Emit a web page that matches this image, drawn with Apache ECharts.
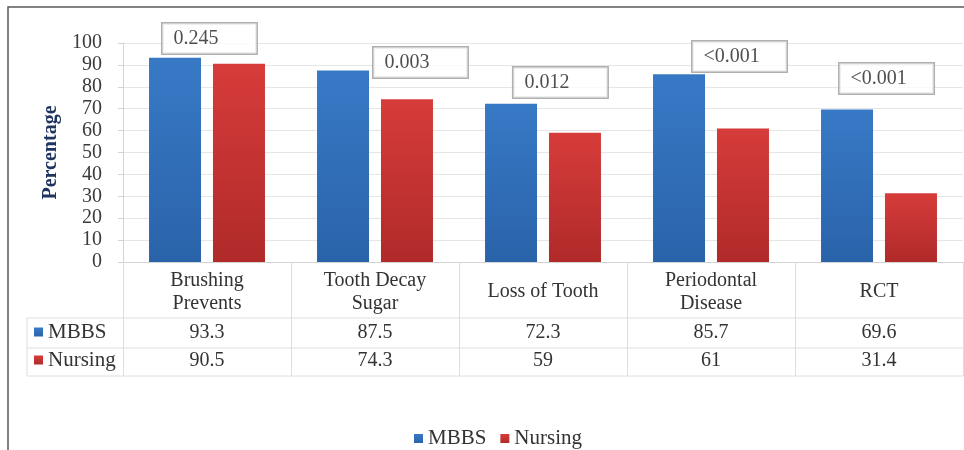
<!DOCTYPE html>
<html>
<head>
<meta charset="utf-8">
<script src="https://cdn.jsdelivr.net/npm/echarts@6/dist/echarts.min.js"></script>
<style>
  html, body { margin: 0; padding: 0; background: #ffffff; }
  #chart { width: 964px; height: 450px; }
</style>
</head>
<body>
<div id="chart"></div>
<script>
// ---- data ----
const categories = ['Brushing\nPrevents', 'Tooth Decay\nSugar', 'Loss of Tooth', 'Periodontal\nDisease', 'RCT'];
const seriesNames = ['MBBS', 'Nursing'];
const mbbs = [93.3, 87.5, 72.3, 85.7, 69.6];
const nursing = [90.5, 74.3, 59, 61, 31.4];
const pValues = ['0.245', '0.003', '0.012', '<0.001', '<0.001'];

// ---- layout: top-left corner of each p-value box, in (category units, percent) ----
const pBoxCorner = [[0.238, 108.7], [1.494, 97.7], [2.327, 88.6], [3.393, 100.5], [4.268, 90.4]];

const FONT = "'Liberation Serif', 'Times New Roman', serif";
const TEXT = '#333333';
const LINE = '#dedede';

const chart = echarts.init(document.getElementById('chart'), null, { renderer: 'canvas' });

function grad(top, bottom) {
  return new echarts.graphic.LinearGradient(0, 0, 0, 1, [
    { offset: 0, color: top },
    { offset: 1, color: bottom }
  ]);
}
const blue = grad('#3879c6', '#2a63aa');
const red = grad('#d63c3a', '#b02a2a');

const gridLeft = 123, gridTop = 43, gridBottom = 188, gridRight = 1;
const tableLeft = 27, tableRight = 963;
const rowLines = [318, 348, 376];

const option = {
  backgroundColor: '#ffffff',
  animation: false,
  textStyle: { fontFamily: FONT },
  grid: { left: gridLeft, right: gridRight, top: gridTop, bottom: gridBottom, containLabel: false },
  legend: [
    {
      data: seriesNames,
      left: 409, top: 423,
      itemWidth: 9, itemHeight: 9, itemGap: 14,
      icon: 'rect', selectedMode: false,
      textStyle: { fontFamily: FONT, fontSize: 21, color: TEXT }
    },
    {
      data: seriesNames,
      orient: 'vertical',
      left: 34, top: 321, padding: 0,
      itemWidth: 9, itemHeight: 9, itemGap: 6,
      icon: 'rect', selectedMode: false,
      textStyle: { fontFamily: FONT, fontSize: 21, lineHeight: 22, color: TEXT }
    }
  ],
  xAxis: [
    {
      type: 'category',
      data: categories,
      axisLine: { show: true, lineStyle: { color: '#d4d4d4', width: 1 } },
      axisTick: { show: true, length: 114, lineStyle: { color: LINE } },
      axisLabel: {
        interval: 0, margin: 30, verticalAlign: 'middle',
        fontFamily: FONT, fontSize: 20, lineHeight: 23, color: TEXT
      },
      splitLine: { show: false }
    },
    {
      type: 'category',
      data: categories,
      position: 'bottom', offset: 56,
      axisLine: { show: false }, axisTick: { show: false },
      axisLabel: {
        interval: 0, margin: 15, verticalAlign: 'middle',
        fontFamily: FONT, fontSize: 20, color: TEXT,
        formatter: (v, i) => String(mbbs[i])
      }
    },
    {
      type: 'category',
      data: categories,
      position: 'bottom', offset: 86,
      axisLine: { show: false }, axisTick: { show: false },
      axisLabel: {
        interval: 0, margin: 13, verticalAlign: 'middle',
        fontFamily: FONT, fontSize: 20, color: TEXT,
        formatter: (v, i) => String(nursing[i])
      }
    },
    { type: 'value', min: 0, max: categories.length, show: false }
  ],
  yAxis: {
    type: 'value',
    min: 0, max: 100, interval: 10,
    name: 'Percentage',
    nameLocation: 'middle', nameGap: 53, nameRotate: 90,
    nameTextStyle: { fontFamily: FONT, fontSize: 20, fontWeight: 'bold', color: '#1f3560' },
    axisLine: { show: true, lineStyle: { color: '#d4d4d4' } },
    axisTick: { show: true, length: 5, lineStyle: { color: '#d4d4d4' } },
    axisLabel: { margin: 21, fontFamily: FONT, fontSize: 20, color: '#3a3a3a' },
    splitLine: { show: true, lineStyle: { color: '#e6e6e6' } }
  },
  series: [
    {
      name: seriesNames[0], type: 'bar', xAxisIndex: 0,
      data: mbbs, barWidth: 52, barGap: '23%',
      itemStyle: { color: blue }
    },
    {
      name: seriesNames[1], type: 'bar', xAxisIndex: 0,
      data: nursing, barWidth: 52, barGap: '23%',
      itemStyle: { color: red }
    },
    {
      name: 'p', type: 'scatter', xAxisIndex: 3, yAxisIndex: 0,
      data: pBoxCorner, clip: false, silent: true, z: 10,
      symbolSize: 1, itemStyle: { color: 'rgba(0,0,0,0)' },
      label: {
        show: true, position: [0, 0], align: 'left', verticalAlign: 'top',
        formatter: p => pValues[p.dataIndex],
        fontFamily: FONT, fontSize: 20, lineHeight: 22, color: '#222222',
        backgroundColor: '#ffffff', borderColor: '#9c9c9c', borderWidth: 1.5,
        padding: [4, 11, 4, 11], width: 72
      }
    }
  ],
  graphic: [
    // outer frame
    { type: 'rect', shape: { x: 8, y: 7, width: 1000, height: 500 },
      style: { fill: null, stroke: '#5a5a5a', lineWidth: 1.5 }, silent: true, z: 100 },
    // data table rules
    ...rowLines.map(y => ({
      type: 'line', shape: { x1: tableLeft, y1: y, x2: tableRight, y2: y },
      style: { stroke: LINE, lineWidth: 1 }, silent: true
    })),
    { type: 'line', shape: { x1: tableLeft, y1: rowLines[0], x2: tableLeft, y2: rowLines[2] },
      style: { stroke: LINE, lineWidth: 1 }, silent: true }
  ]
};

chart.setOption(option);
</script>
</body>
</html>
